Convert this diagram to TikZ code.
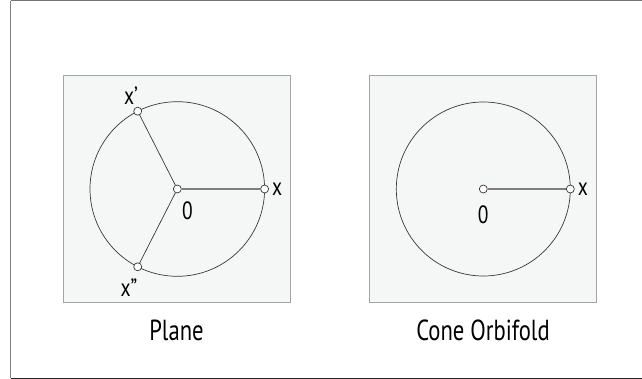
\documentclass[tikz,border=0pt]{standalone}
\usepackage{fontspec}
\setmainfont{PT Sans}[FakeStretch=0.78]
\usetikzlibrary{positioning}
\definecolor{panelcolor}{HTML}{F5F7F7}
\definecolor{panelframe}{HTML}{A5A5A5}
\definecolor{linecolor}{HTML}{383838}
\definecolor{armcolor}{HTML}{7E7E7E}

\begin{document}
\begin{tikzpicture}[x=1pt, y=-1pt,
  panel/.style={rectangle, draw=panelframe, fill=panelcolor, line width=0.9pt,
                minimum width=227pt, minimum height=227pt, inner sep=0pt},
  orbit/.style={draw=linecolor, line width=0.7pt},
  dot/.style={circle, draw=linecolor, fill=white, line width=0.7pt,
              inner sep=0pt, minimum size=8pt},
  spoke/.style={linecolor, line width=0.7pt},
  arm/.style={armcolor, line width=1.5pt},
  lbl/.style={font=\fontsize{25}{30}\selectfont, inner sep=1pt, text=black},
  title/.style={font=\fontsize{29}{34}\selectfont, text=black},
]
\useasboundingbox (0,0) rectangle (642,379);
\draw[black!55, line width=1.2pt] (10.6,0.6) -- (650,0.6);
\draw[black!50, line width=1.2pt] (10.6,0.6) -- (10.6,378.2);
\draw[black!85, line width=1.2pt] (10.6,378.2) -- (650,378.2);

\node[panel] (LP) at (176.5,188.5) {};
\node[panel] (RP) at (483,188.5) {};

\node[title, below=14pt of LP] (LT) {Plane};
\node[title, below=14pt of RP] (RT) {Cone Orbifold};

\coordinate (LC) at (177.3,189);
\coordinate (RC) at (483.3,189);
\draw[orbit] (LC) circle[radius=87.3pt];
\draw[orbit] (RC) circle[radius=87pt];

\node[dot] (LO) at (LC) {};
\node[dot] (LX) at (264.6,189) {};
\node[dot] (LXp) at (137.7,111.2) {};
\node[dot] (LXpp) at (137.7,266.8) {};
\draw[arm] (LO) -- (LX);
\draw[spoke] (LO) -- (LXp);
\draw[spoke] (LO) -- (LXpp);

\node[dot] (RO) at (RC) {};
\node[dot] (RX) at (570.3,189) {};
\draw[arm] (RO) -- (RX);

\node[lbl, right=2pt of LX] (LXl) {x};
\node[lbl, anchor=north west] (LOl) at (181,201) {0};
\node[lbl] (LXpl) at (131,96) {x'};
\node[lbl] (LXppl) at (129,288) {x''};

\node[lbl, right=2pt of RX] (RXl) {x};
\node[lbl, below=11pt of RO] (ROl) {0};
\end{tikzpicture}
\end{document}
